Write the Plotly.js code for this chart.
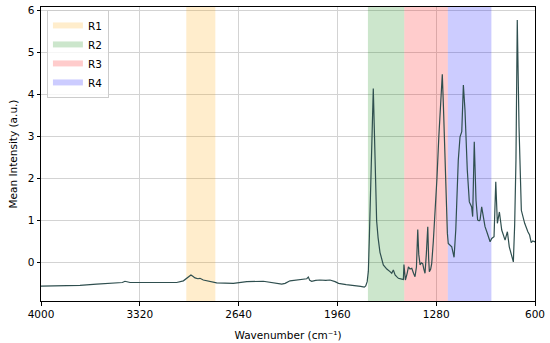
<!DOCTYPE html>
<html>
<head>
<meta charset="utf-8">
<script src="https://cdn.plot.ly/plotly-3.0.1.min.js"></script>
<style>
  html, body { margin: 0; padding: 0; background: #fff; }
  #chart { width: 550px; height: 343px; }
</style>
</head>
<body>
<div id="chart"></div>
<script>
// Spectrum (wavenumber, cm-1) and mean intensity (a.u.)
const wavenumber = [
  4000, 3900, 3800, 3732, 3617, 3479, 3440, 3422, 3400, 3387, 3200, 3066, 3020, 2993, 2968, 2955,
  2940, 2920, 2906, 2883, 2825, 2791, 2676, 2630, 2584, 2470, 2378, 2343, 2320, 2286, 2171, 2160,
  2150, 2137, 2110, 2080, 2040, 2011, 1976, 1952, 1900, 1867, 1800, 1775, 1765, 1755, 1747, 1740,
  1730, 1720, 1713, 1706, 1698, 1690, 1680, 1667, 1644, 1620, 1598, 1586, 1575, 1563, 1552, 1540,
  1517, 1506, 1502, 1497, 1492, 1480, 1471, 1460, 1448, 1436, 1426, 1416, 1407, 1400, 1391, 1382,
  1373, 1365, 1357, 1348, 1338, 1332, 1327, 1318, 1311, 1300, 1288, 1275, 1262, 1250, 1238, 1230,
  1220, 1210, 1203, 1197, 1185, 1173, 1157, 1145, 1128, 1116, 1104, 1093, 1082, 1066, 1052, 1044,
  1036, 1029, 1018, 1006, 995, 985, 978, 967, 955, 944, 930, 921, 909, 898, 882, 870,
  859, 845, 829, 806, 790, 777, 760, 749, 740, 731, 722, 710, 694, 671, 649, 637,
  626, 615, 603, 600
];
const intensity = [
  -0.555, -0.55, -0.545, -0.54, -0.51, -0.48, -0.47, -0.44, -0.46, -0.47, -0.47, -0.47, -0.43, -0.36, -0.29, -0.32,
  -0.36, -0.38, -0.37, -0.41, -0.45, -0.48, -0.49, -0.47, -0.45, -0.44, -0.48, -0.51, -0.49, -0.43, -0.38, -0.34,
  -0.42, -0.44, -0.42, -0.41, -0.42, -0.41, -0.45, -0.49, -0.52, -0.53, -0.56, -0.58, -0.55, -0.45, -0.2, 0.6,
  2.0, 3.5, 4.15, 3.2, 2.0, 1.0, 0.6, 0.25, -0.05, -0.15, -0.21, -0.25, -0.17, -0.29, -0.33, -0.37,
  -0.39, -0.4, -0.04, -0.38, -0.41, -0.25, -0.1, -0.15, -0.13, -0.25, -0.33, -0.1, 0.79, 0.2, -0.05, 0.0,
  -0.02, -0.15, -0.25, 0.2, 0.86, 0.1, -0.21, -0.15, -0.02, 0.5, 1.1, 2.0, 3.0, 3.9, 4.49, 3.7,
  2.4, 1.3, 0.7, 0.46, 0.42, 0.38, 0.13, 0.8, 2.44, 3.0, 3.12, 4.23, 3.64, 2.21, 1.45, 1.4,
  1.33, 1.1, 2.88, 1.49, 1.02, 1.0, 1.02, 1.33, 1.05, 0.86, 0.72, 0.62, 0.5, 0.58, 0.62, 1.93,
  0.94, 1.21, 0.78, 0.54, 0.74, 0.38, 0.15, 0.02, 0.9, 2.45, 5.78, 3.24, 1.25, 0.94, 0.74, 0.66,
  0.48, 0.52, 0.5, 0.52
];

// Shaded regions
const regionNames = ['R1', 'R2', 'R3', 'R4'];
const regionStart = [3000, 1750, 1500, 1200];
const regionEnd = [2800, 1500, 1200, 900];
const regionColors = ['rgba(255,165,0,0.2)', 'rgba(0,128,0,0.2)', 'rgba(255,0,0,0.2)', 'rgba(0,0,255,0.2)'];

const xTicks = [4000, 3320, 2640, 1960, 1280, 600];
const yTicks = [0, 1, 2, 3, 4, 5, 6];
const yMin = -0.91, yMax = 6.09;

const FONT = { family: 'DejaVu Sans, sans-serif', size: 10.5, color: '#000' };

const regionTraces = regionNames.map((name, i) => ({
  x: [regionStart[i], regionEnd[i], regionEnd[i], regionStart[i], regionStart[i]],
  y: [yMin, yMin, yMax, yMax, yMin],
  type: 'scatter',
  mode: 'none',
  fill: 'toself',
  fillcolor: regionColors[i],
  name: name,
  hoverinfo: 'skip',
}));

const spectrum = {
  x: wavenumber,
  y: intensity,
  type: 'scatter',
  mode: 'lines',
  line: { color: '#2f4f4f', width: 1.2 },
  showlegend: false,
  hovertemplate: '%{x} cm⁻¹: %{y:.2f}<extra></extra>',
};

const axisBase = {
  showline: true,
  mirror: true,
  linecolor: '#000',
  linewidth: 1,
  ticks: 'outside',
  ticklen: 3.5,
  tickcolor: '#000',
  showgrid: true,
  gridcolor: '#d3d3d3',
  gridwidth: 1,
  zeroline: false,
  tickfont: FONT,
};

const layout = {
  width: 550,
  height: 343,
  margin: { l: 41, r: 15, t: 7, b: 42 },
  paper_bgcolor: '#fff',
  plot_bgcolor: '#fff',
  font: FONT,
  xaxis: {
    ...axisBase,
    range: [4000, 600],
    tickvals: xTicks,
    ticktext: xTicks.map(String),
    title: { text: 'Wavenumber (cm⁻¹)', font: FONT, standoff: 12 },
  },
  yaxis: {
    ...axisBase,
    range: [yMin, yMax],
    tickvals: yTicks,
    ticktext: yTicks.map(String),
    title: { text: 'Mean Intensity (a.u.)', font: FONT, standoff: 8 },
  },
  legend: {
    x: 0.012, y: 0.99,
    xanchor: 'left', yanchor: 'top',
    bgcolor: 'rgba(255,255,255,0.8)',
    bordercolor: '#cccccc',
    borderwidth: 1,
    font: FONT,
    tracegroupgap: 0,
    itemwidth: 30,
  },
  showlegend: true,
};

Plotly.newPlot('chart', [...regionTraces, spectrum], layout, { displayModeBar: false, staticPlot: true });
</script>
</body>
</html>
